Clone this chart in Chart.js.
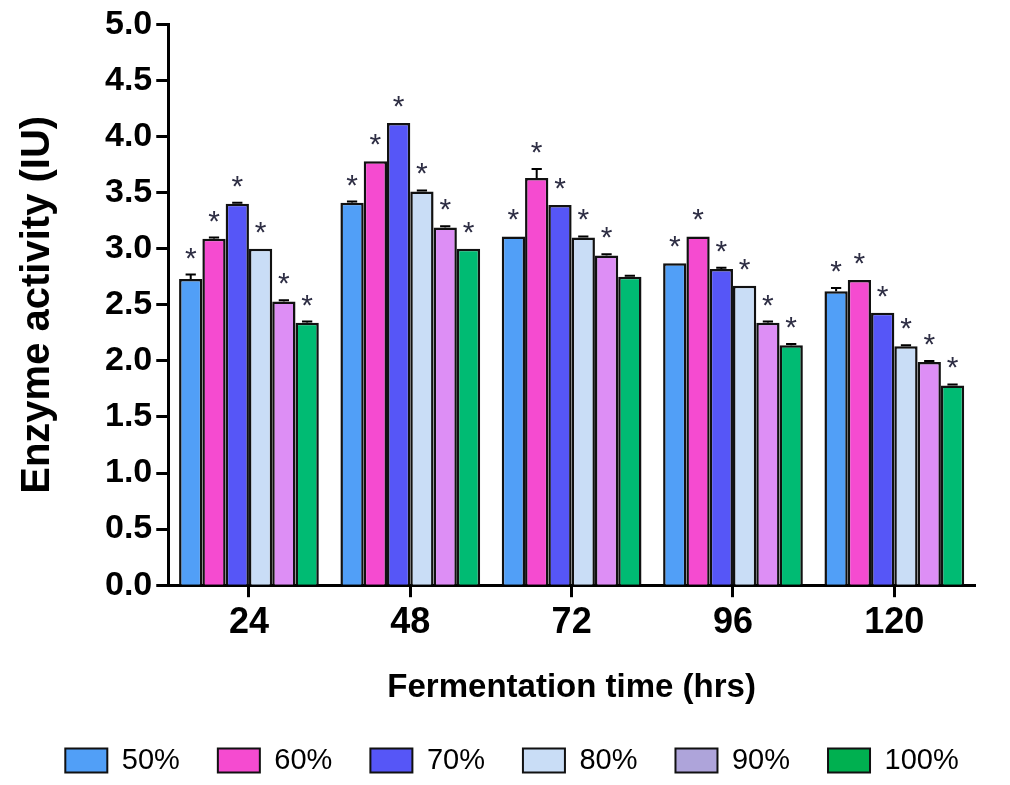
<!DOCTYPE html>
<html>
<head>
<meta charset="utf-8">
<script src="https://cdn.jsdelivr.net/npm/chart.js@4.4.1/dist/chart.umd.min.js"></script>
<style>
  html, body { margin: 0; padding: 0; background: #fff; }
  #wrap { width: 1010px; height: 785px; }
</style>
</head>
<body>
<div id="wrap"><canvas id="chart"></canvas></div>
<script>
// fermentation time groups
const hours = ["24", "48", "72", "96", "120"];
const seriesNames = ["50%", "60%", "70%", "80%", "90%", "100%"];

// enzyme activity (IU)
const act50 = [2.73, 3.41, 3.11, 2.87, 2.62];
const act60 = [3.09, 3.78, 3.63, 3.11, 2.72];
const act70 = [3.40, 4.12, 3.39, 2.82, 2.43];
const act80 = [3.00, 3.51, 3.10, 2.67, 2.13];
const act90 = [2.53, 3.19, 2.94, 2.34, 1.99];
const act100 = [2.34, 3.00, 2.75, 2.14, 1.78];

// error (SD)
const err50 = [0.04, 0.01, 0, 0, 0.03];
const err60 = [0.01, 0, 0.08, 0, 0];
const err70 = [0.01, 0, 0, 0.01, 0];
const err80 = [0, 0.01, 0.01, 0, 0.01];
const err90 = [0.01, 0.01, 0.01, 0.01, 0.01];
const err100 = [0.01, 0, 0.01, 0.01, 0.01];

// significance marks (1 = asterisk)
const sig50 = [1, 1, 1, 1, 1];
const sig60 = [1, 1, 1, 1, 1];
const sig70 = [1, 1, 1, 1, 1];
const sig80 = [1, 1, 1, 1, 1];
const sig90 = [1, 1, 1, 1, 1];
const sig100 = [1, 1, 0, 1, 1];

const barColors = ["#519ff7", "#f54bd0", "#5656f7", "#c9ddf6", "#dd8ef5", "#00bb73"];
const legendColors = ["#519ff7", "#f54bd0", "#5656f7", "#c9ddf6", "#aea4da", "#00b050"];

const values = [act50, act60, act70, act80, act90, act100];
const errors = [err50, err60, err70, err80, err90, err100];
const marks = [sig50, sig60, sig70, sig80, sig90, sig100];

const FONT = "'Liberation Sans', Arial, sans-serif";

const errorAndStars = {
  id: "errorAndStars",
  afterDatasetsDraw(chart) {
    const ctx = chart.ctx;
    const y = chart.scales.y;
    ctx.save();
    chart.data.datasets.forEach((ds, i) => {
      const meta = chart.getDatasetMeta(i);
      meta.data.forEach((bar, j) => {
        const v = ds.data[j];
        const e = errors[i][j];
        let top = y.getPixelForValue(v);
        if (e > 0) {
          const et = y.getPixelForValue(v + e);
          const half = bar.width * 0.22;
          ctx.strokeStyle = "#000";
          ctx.lineWidth = 2;
          ctx.beginPath();
          ctx.moveTo(bar.x, top);
          ctx.lineTo(bar.x, et);
          ctx.moveTo(bar.x - half, et);
          ctx.lineTo(bar.x + half, et);
          ctx.stroke();
          top = et;
        }
        if (marks[i][j]) {
          ctx.fillStyle = "#2e2e44";
          ctx.font = "30px " + FONT;
          ctx.textAlign = "center";
          ctx.textBaseline = "alphabetic";
          ctx.fillText("*", bar.x, top - 7);
        }
      });
    });
    ctx.restore();
  }
};

new Chart(document.getElementById("chart"), {
  type: "bar",
  data: {
    labels: hours,
    datasets: seriesNames.map((name, i) => ({
      label: name,
      data: values[i],
      backgroundColor: barColors[i],
      borderColor: "#111",
      borderWidth: 2.5,
      borderSkipped: "bottom",
      categoryPercentage: 0.866,
      barPercentage: 1.0,
    })),
  },
  options: {
    responsive: true,
    maintainAspectRatio: false,
    animation: false,
    layout: { padding: { top: 23, right: 0, left: 14, bottom: 0 } },
    plugins: {
      tooltip: { enabled: false },
      legend: {
        position: "bottom",
        labels: {
          color: "#222",
          font: { family: FONT, size: 29 },
          boxWidth: 42,
          boxHeight: 24,
          padding: 38,
          generateLabels: (chart) =>
            chart.data.datasets.map((ds, i) => ({
              text: ds.label,
              fillStyle: legendColors[i],
              strokeStyle: "#111",
              lineWidth: 2,
              datasetIndex: i,
            })),
        },
      },
    },
    scales: {
      x: {
        grid: {
          offset: false,
          drawOnChartArea: false,
          tickLength: 12,
          tickWidth: 3,
          tickColor: "#000",
        },
        border: { color: "#000", width: 3 },
        ticks: {
          color: "#000",
          font: { family: FONT, size: 36, weight: "bold" },
          padding: 4,
        },
        title: {
          display: true,
          text: "Fermentation time (hrs)",
          color: "#000",
          font: { family: FONT, size: 33, weight: "bold" },
          padding: { top: 20, bottom: 0 },
        },
      },
      y: {
        min: 0,
        max: 5,
        grid: {
          drawOnChartArea: false,
          tickLength: 12,
          tickWidth: 3,
          tickColor: "#000",
        },
        border: { color: "#000", width: 3 },
        ticks: {
          stepSize: 0.5,
          color: "#000",
          font: { family: FONT, size: 34, weight: "bold" },
          padding: 4,
          callback: (v) => Number(v).toFixed(1),
        },
        title: {
          display: true,
          text: "Enzyme activity (IU)",
          color: "#000",
          font: { family: FONT, size: 40, weight: "bold" },
          padding: { top: 0, bottom: 39 },
        },
      },
      // empty right-hand spacer so the plot ends where the original does
      spacer: {
        position: "right",
        display: true,
        grid: { display: false },
        border: { display: false },
        ticks: { display: false },
        afterFit: (s) => { s.width = 35; },
      },
    },
  },
  plugins: [errorAndStars],
});
</script>
</body>
</html>
